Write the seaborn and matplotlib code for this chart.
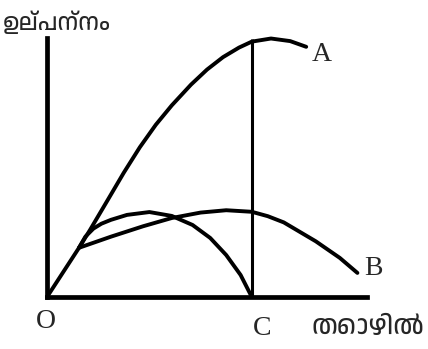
import numpy as np
import pandas as pd
import matplotlib
matplotlib.use("Agg")
import matplotlib.pyplot as plt
from matplotlib import font_manager
from matplotlib.ft2font import FT2Font
import seaborn as sns

labour_tp = [0, 1.0, 1.35, 1.9, 2.4, 2.9, 3.4, 3.9, 4.5, 5.0, 5.5, 6.0, 6.4, 7.0, 7.6, 8.1]
output_tp = [0, 19, 26, 37.5, 48, 57.8, 66.5, 74, 82, 87.8, 92.6, 96.3, 98.6, 99.8, 98.8, 96.6]

labour_ap = [1.0, 2.0, 3.0, 3.9, 4.8, 5.6, 6.4, 6.9, 7.4, 8.4, 9.15, 9.7]
output_ap = [19, 23.3, 27.3, 30.5, 32.6, 33.5, 32.9, 31.2, 28.8, 21.5, 15.1, 9.3]

labour_mp = [1.0, 1.2, 1.45, 1.7, 2.0, 2.5, 3.2, 3.9, 4.55, 5.1, 5.6, 6.05, 6.4]
output_mp = [19, 23.3, 26.4, 28.3, 29.8, 31.7, 32.8, 31.3, 27.8, 22.8, 16.2, 8.5, 0]

c_labour = 6.42
curve_labels = ["A", "B", "C", "O"]
y_title = "ഉല്പന്നം"
x_title = "തൊഴിൽ"


def find_malayalam_font():
    # cherche une police qui contient le caractère ഉ
    for f in font_manager.fontManager.ttflist:
        if "malayalam" in f.name.lower():
            return f.name
    for f in font_manager.fontManager.ttflist:
        try:
            if 0x0D09 in FT2Font(f.fname).get_charmap():
                return f.name
        except Exception:
            pass
    return "DejaVu Sans"


sns.set_theme(style="white")
mal_family = [find_malayalam_font(), "DejaVu Sans"]

fig = plt.figure(figsize=(4.28, 3.49), dpi=100)
ax = fig.add_axes([47 / 428, 52 / 349, 320 / 428, 259 / 349])

for xs, ys in [(labour_tp, output_tp), (labour_ap, output_ap), (labour_mp, output_mp)]:
    sns.lineplot(x=xs, y=ys, ax=ax, color="black", linewidth=2.8,
                 sort=False, estimator=None, clip_on=False,
                 solid_joinstyle="round", solid_capstyle="round")

ax.vlines(c_labour, 0, max(output_tp), color="black", linewidth=2.2, clip_on=False)

ax.set_xlim(0, 10)
ax.set_ylim(0, 100)
ax.set_xticks([])
ax.set_yticks([])
ax.set_xlabel("")
ax.set_ylabel("")
sns.despine(ax=ax)
for side in ["left", "bottom"]:
    ax.spines[side].set_linewidth(3.4)
    ax.spines[side].set_color("black")

serif = ["Liberation Serif", "DejaVu Serif"]
ax.text(8.6, 93.5, curve_labels[0], fontsize=20, family=serif, ha="center", va="center")
ax.text(10.2, 11, curve_labels[1], fontsize=20, family=serif, ha="center", va="center")
ax.text(6.72, -12.3, curve_labels[2], fontsize=20, family=serif, ha="center", va="center", clip_on=False)
ax.text(-0.03, -9.5, curve_labels[3], fontsize=20, family=serif, ha="center", va="center", clip_on=False)

fig.text(57 / 428, 1 - 22 / 349, y_title, fontsize=17, family=mal_family,
         fontweight="bold", ha="center", va="center")
fig.text(368 / 428, 1 - 327 / 349, x_title, fontsize=19, family=mal_family,
         fontweight="bold", ha="center", va="center")

fig.savefig("out.png", dpi=100, facecolor="white")
